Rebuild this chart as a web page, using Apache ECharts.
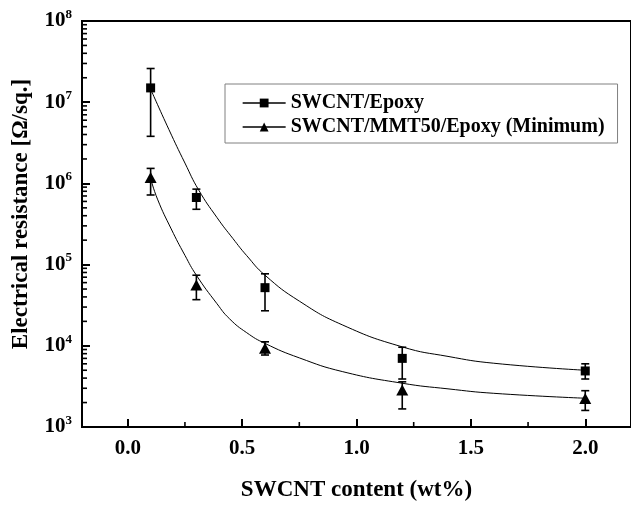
<!DOCTYPE html>
<html>
<head>
<meta charset="utf-8">
<script src="https://cdn.jsdelivr.net/npm/echarts@6/dist/echarts.min.js"></script>
<style>
html,body{margin:0;padding:0;background:#fff;}
#chart{width:631px;height:507px;}
</style>
</head>
<body>
<div id="chart"></div>
<script>
// measured points
var contentX = [0.1, 0.3, 0.6, 1.2, 2.0];

var epoxyVal = [1.5e7, 6.7e5, 5.2e4, 7.0e3, 4.9e3];
var epoxyLow = [3.8e6, 4.8e5, 2.7e4, 3.9e3, 3.9e3];
var epoxyHigh = [2.6e7, 8.5e5, 7.7e4, 9.6e3, 6.0e3];

var mmtVal = [1.18e6, 5.6e4, 9.3e3, 2.86e3, 2.25e3];
var mmtLow = [7.2e5, 3.7e4, 7.7e3, 1.67e3, 1.6e3];
var mmtHigh = [1.53e6, 7.4e4, 1.12e4, 3.6e3, 2.8e3];

// fitted curves
var fitEpoxyX = [0.1, 0.18, 0.25, 0.31, 0.39, 0.46, 0.52, 0.6, 0.75, 0.94, 1.2, 1.4, 1.6, 2.0];
var fitEpoxyY = [1.45e7, 4.6e6, 1.78e6, 8.3e5, 3.8e5, 2.09e5, 1.29e5, 7.4e4, 3.55e4, 1.8e4, 9.7e3, 7.4e3, 6.1e3, 5.0e3];

var fitMmtX = [0.1, 0.13, 0.19, 0.25, 0.3, 0.39, 0.445, 0.52, 0.6, 0.75, 0.94, 1.2, 1.4, 1.6, 2.0];
var fitMmtY = [1.15e6, 6.4e5, 2.75e5, 1.3e5, 7.4e4, 3.3e4, 2.15e4, 1.45e4, 1.07e4, 7.1e3, 4.8e3, 3.46e3, 2.95e3, 2.6e3, 2.26e3];

var X_MIN = -0.2, X_MAX = 2.2;
var Y_MIN = 1e3, Y_MAX = 1e8;
var xTicks = [0, 0.5, 1.0, 1.5, 2.0];
var xMinorTicks = [0.25, 0.75, 1.25, 1.75];
var yDecades = [1e3, 1e4, 1e5, 1e6, 1e7];
var yMinorMult = [2, 3, 4, 5, 6, 7, 8, 9];

var NAME_A = 'SWCNT/Epoxy';
var NAME_B = 'SWCNT/MMT50/Epoxy (Minimum)';
var FONT = 'Liberation Serif';

function zip(xs, ys){
	var out = [];
	for(var i = 0; i < xs.length; i++){
		out.push([xs[i], ys[i]]);
	}
	return out;
}

function zipErr(xs, lo, hi){
	var out = [];
	for(var i = 0; i < xs.length; i++){
		out.push([xs[i], lo[i], hi[i]]);
	}
	return out;
}

// minor ticks: [x, y, direction]  0 = on the left axis, 1 = on the bottom axis
var minorTickData = [];
for(var d = 0; d < yDecades.length; d++){
	for(var m = 0; m < yMinorMult.length; m++){
		minorTickData.push([X_MIN, yDecades[d] * yMinorMult[m], 0]);
	}
}
for(var k = 0; k < xMinorTicks.length; k++){
	minorTickData.push([xMinorTicks[k], Y_MIN, 1]);
}

function renderErr(params, api){
	var x = api.value(0);
	var lo = api.coord([x, api.value(1)]);
	var hi = api.coord([x, api.value(2)]);
	var w = 4;
	var st = {stroke:'#000', lineWidth:1.6};
	return {
		type:'group',
		children:[
			{type:'line', shape:{x1:lo[0], y1:lo[1], x2:hi[0], y2:hi[1]}, style:st},
			{type:'line', shape:{x1:lo[0]-w, y1:lo[1], x2:lo[0]+w, y2:lo[1]}, style:st},
			{type:'line', shape:{x1:hi[0]-w, y1:hi[1], x2:hi[0]+w, y2:hi[1]}, style:st}
		]
	};
}

function renderMinorTick(params, api){
	var p = api.coord([api.value(0), api.value(1)]);
	var shape;
	if(api.value(2) === 0){
		shape = {x1:p[0], y1:p[1], x2:p[0]+5, y2:p[1]};
	} else {
		shape = {x1:p[0], y1:p[1], x2:p[0], y2:p[1]-5};
	}
	return {
		type:'line',
		shape:shape,
		style:{stroke:'#000', lineWidth:1.6}
	};
}

var myChart = echarts.init(document.getElementById('chart'));
myChart.setOption({
	animation:false,
	backgroundColor:'#fff',
	grid:{
		left:82,
		right:-2,
		top:21,
		bottom:78,
		show:true,
		borderColor:'#000',
		borderWidth:2
	},
	legend:{
		data:[NAME_A, NAME_B],
		orient:'vertical',
		left:225,
		top:84,
		padding:[9,13,6,17],
		itemWidth:43,
		itemHeight:11,
		itemGap:4,
		borderColor:'#808080',
		borderWidth:1,
		lineStyle:{color:'#000', width:1.3, opacity:1},
		itemStyle:{color:'#000'},
		textStyle:{fontFamily:FONT, fontWeight:'bold', fontSize:20, color:'#000', lineHeight:20}
	},
	xAxis:{
		type:'value',
		min:X_MIN,
		max:X_MAX,
		position:'bottom',
		name:'SWCNT content (wt%)',
		nameLocation:'middle',
		nameGap:52,
		nameTextStyle:{fontFamily:FONT, fontWeight:'bold', fontSize:23, color:'#000'},
		axisLine:{show:true, onZero:false, lineStyle:{color:'#000', width:2}},
		axisTick:{show:true, inside:true, length:8, customValues:xTicks, lineStyle:{color:'#000', width:2}},
		axisLabel:{
			customValues:xTicks,
			margin:11,
			fontFamily:FONT, fontWeight:'bold', fontSize:21, color:'#000',
			formatter:function(v){ return v.toFixed(1); }
		},
		splitLine:{show:false},
		minorTick:{show:false},
		minorSplitLine:{show:false}
	},
	yAxis:{
		type:'log',
		logBase:10,
		min:Y_MIN,
		max:Y_MAX,
		position:'left',
		name:'Electrical resistance [Ω/sq.]',
		nameLocation:'middle',
		nameGap:49,
		nameTextStyle:{fontFamily:FONT, fontWeight:'bold', fontSize:23, color:'#000', padding:[0,0,0,20]},
		axisLine:{show:true, onZero:false, lineStyle:{color:'#000', width:2}},
		axisTick:{show:true, inside:true, length:8, lineStyle:{color:'#000', width:2}},
		axisLabel:{
			margin:10,
			formatter:function(v){
				return '{b|10}{s|' + Math.round(Math.log10(v)) + '}';
			},
			rich:{
				b:{fontFamily:FONT, fontWeight:'bold', fontSize:21, color:'#000', lineHeight:26},
				s:{fontFamily:FONT, fontWeight:'bold', fontSize:13, color:'#000', lineHeight:14, verticalAlign:'top'}
			}
		},
		splitLine:{show:false},
		minorTick:{show:false},
		minorSplitLine:{show:false}
	},
	series:[
		{
			name:'minorTicks',
			type:'custom',
			renderItem:renderMinorTick,
			encode:{x:0, y:1},
			data:minorTickData,
			silent:true,
			clip:false,
			z:5
		},
		{
			name:'fitA',
			type:'line',
			data:zip(fitEpoxyX, fitEpoxyY),
			smooth:0.5,
			symbol:'none',
			lineStyle:{color:'#000', width:1},
			z:2
		},
		{
			name:'fitB',
			type:'line',
			data:zip(fitMmtX, fitMmtY),
			smooth:0.5,
			symbol:'none',
			lineStyle:{color:'#000', width:1},
			z:2
		},
		{
			name:'errA',
			type:'custom',
			renderItem:renderErr,
			encode:{x:0, y:[1,2]},
			data:zipErr(contentX, epoxyLow, epoxyHigh),
			z:3
		},
		{
			name:'errB',
			type:'custom',
			renderItem:renderErr,
			encode:{x:0, y:[1,2]},
			data:zipErr(contentX, mmtLow, mmtHigh),
			z:3
		},
		{
			name:NAME_A,
			type:'line',
			data:zip(contentX, epoxyVal),
			symbol:'rect',
			symbolSize:9,
			showAllSymbol:true,
			itemStyle:{color:'#000'},
			lineStyle:{width:0, opacity:0},
			z:4
		},
		{
			name:NAME_B,
			type:'line',
			data:zip(contentX, mmtVal),
			symbol:'triangle',
			symbolSize:[12,11],
			showAllSymbol:true,
			itemStyle:{color:'#000'},
			lineStyle:{width:0, opacity:0},
			z:4
		}
	]
});
</script>
</body>
</html>
